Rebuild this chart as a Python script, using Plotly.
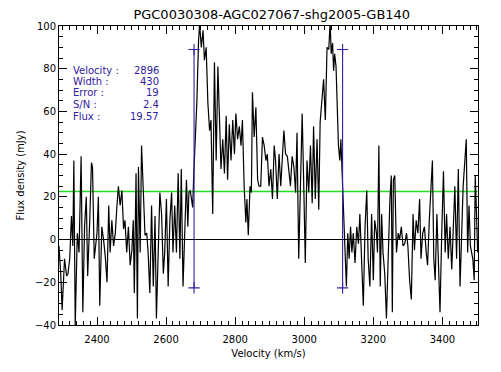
import plotly.graph_objects as go

# HI spectrum (velocity km/s, flux density mJy)
velocity = [
    2290, 2295, 2299, 2302, 2306, 2312, 2316, 2321, 2326, 2330, 2333, 2337, 2343, 2348, 2354, 2359,
    2364, 2369, 2373, 2379, 2384, 2387, 2392, 2400, 2404, 2408, 2414, 2419, 2424, 2429, 2434, 2438,
    2443, 2448, 2453, 2457, 2462, 2467, 2472, 2477, 2481, 2486, 2491, 2496, 2501, 2505, 2508, 2513,
    2517, 2520, 2525, 2529, 2534, 2539, 2544, 2548, 2553, 2558, 2563, 2568, 2572, 2577, 2582, 2587,
    2592, 2596, 2601, 2606, 2611, 2616, 2620, 2625, 2630, 2635, 2640, 2644, 2649, 2654, 2659, 2663,
    2666, 2670, 2673, 2677, 2680, 2684, 2689, 2694, 2697, 2702, 2707, 2711, 2716, 2721, 2726, 2730,
    2735, 2740, 2745, 2750, 2754, 2759, 2764, 2769, 2774, 2778, 2783, 2788, 2793, 2798, 2802, 2807,
    2812, 2817, 2821, 2826, 2831, 2834, 2838, 2843, 2847, 2850, 2855, 2860, 2865, 2869, 2874, 2879,
    2884, 2889, 2893, 2898, 2903, 2908, 2913, 2917, 2922, 2927, 2932, 2936, 2941, 2946, 2951, 2955,
    2960, 2965, 2970, 2975, 2979, 2984, 2989, 2994, 2999, 3003, 3008, 3013, 3018, 3023, 3027, 3032,
    3037, 3042, 3046, 3051, 3056, 3061, 3066, 3071, 3075, 3078, 3082, 3085, 3088, 3092, 3096, 3099,
    3103, 3106, 3109, 3111, 3114, 3118, 3122, 3126, 3130, 3134, 3138, 3142, 3147, 3152, 3157, 3161,
    3166, 3171, 3176, 3181, 3185, 3190, 3195, 3200, 3204, 3209, 3212, 3216, 3220, 3224, 3228, 3233,
    3238, 3243, 3248, 3252, 3255, 3258, 3262, 3267, 3272, 3276, 3281, 3286, 3291, 3296, 3300, 3305,
    3310, 3315, 3319, 3324, 3329, 3334, 3338, 3343, 3348, 3353, 3357, 3362, 3367, 3371, 3375, 3379,
    3384, 3388, 3393, 3398, 3403, 3408, 3412, 3417, 3422, 3427, 3432, 3436, 3441, 3446, 3451, 3456,
    3460, 3465, 3469, 3473, 3477, 3481, 3484, 3488, 3492, 3495, 3498, 3502,
]
flux = [
    -3, -16, -33, -25, -9, -17, -16, -9, 11, -3, 37, -40, 3, -6, 39, -34,
    6, 20, -17, 9, 36, 34, -9, 3, 20, -31, 6, 0, -8, -20, 16, -6,
    9, -3, 3, 14, 25, 16, 23, 5, 9, -6, 6, -12, -5, 9, -25, 31,
    -37, 34, -6, 44, 22, 2, 3, -6, -25, 16, -22, 11, -37, -2, 22, 12,
    -16, -6, 19, -22, 9, 22, -6, 16, -6, 31, -9, 33, -22, 3, 28, 6,
    22, 23, 20, 15, 30, 44, 64, 93, 101, 90, 98, 84, 90, 64, 51, 56,
    12, 83, 37, 81, 56, 33, 47, 31, 58, 28, 54, 37, 56, 40, 59, 47,
    53, 44, 56, 25, 8, 19, 2, 25, 22, 69, 48, 62, 28, 25, 25, 48,
    44, 37, 40, 25, 33, 19, 44, 37, 19, 40, 25, 39, 51, 40, 39, 33,
    25, 39, 34, 22, 50, -9, 25, 59, 22, -11, 37, 22, 44, 17, 53, 19,
    47, 14, 55, 67, 75, 56, 90, 89, 102, 87, 92, 79, 87, 81, 64, 44,
    37, 47, 34, 25, 16, -3, -22, 3, -9, 6, -6, 3, -11, 6, -2, 12,
    -9, -31, 6, 23, -9, -22, 12, -19, 9, 3, -6, 44, -22, 12, -6, -16,
    -37, -3, 19, 30, -34, 28, 30, -6, 3, 0, 6, -3, -2, 3, -3, -19,
    -28, 12, -5, 9, 3, 19, -9, 3, 6, -6, -12, 9, 25, 37, -9, -19,
    12, -9, -34, 3, 32, -6, 12, -9, 6, -14, 12, 25, -9, 33, -22, 3,
    25, 37, 47, -6, 16, -3, -6, -9, -19, 30, 16, -6,
]

# fit results printed on the plot
info_labels = ['Velocity :', 'Width :', 'Error :', 'S/N :', 'Flux :']
info_values = ['2896', '430', '19', '2.4', '19.57']

# width markers and rms level
edge_velocity = [2681, 3111]
edge_flux = [-22.6, 89]
rms_level = 22.5

blue = '#3020a0'
green = '#22dd22'
font = 'DejaVu Sans'

fig = go.Figure()

fig.add_trace(go.Scatter(x=[velocity[0], velocity[-1]], y=[rms_level, rms_level], mode='lines',
                         line=dict(color=green, width=1.3), hoverinfo='skip'))

fig.add_trace(go.Scatter(x=velocity, y=flux, mode='lines', line=dict(color='black', width=1.2)))

for v in edge_velocity:
    fig.add_trace(go.Scatter(x=[v, v], y=edge_flux, mode='lines+markers',
                             line=dict(color=blue, width=1.1),
                             marker=dict(symbol='cross-thin-open', size=8,
                                         line=dict(color=blue, width=1.1))))

# text block, placed in data coords like xyouts
row_y = [79.4, 74.0, 68.7, 63.1, 57.6]
for lab, val, yy in zip(info_labels, info_values, row_y):
    fig.add_annotation(x=2326, y=yy, text=lab, showarrow=False, xanchor='left',
                       font=dict(family=font, size=10, color=blue))
    fig.add_annotation(x=2584, y=yy, text=val, showarrow=False, xanchor='right',
                       font=dict(family=font, size=10, color=blue))

# page body adds an 8px offset, so the figure is 8px smaller than the window
fig.update_layout(
    width=493, height=364,
    margin=dict(l=47, r=23, t=18, b=47),
    paper_bgcolor='white', plot_bgcolor='white',
    showlegend=False,
    font=dict(family=font, size=10, color='black'),
    title=dict(text='PGC0030308-AGC027067-shg2005-GB140', x=0.535, xanchor='center',
               y=0.982, yanchor='middle', font=dict(family=font, size=13, color='black')),
)

fig.update_xaxes(
    range=[2290, 3503], showgrid=False, zeroline=False,
    showline=True, linecolor='black', linewidth=1, mirror='allticks',
    ticks='inside', ticklen=8, tickcolor='black', dtick=200, tick0=0,
    ticklabelstandoff=5,
    minor=dict(ticks='inside', ticklen=4, dtick=20, tickcolor='black', showgrid=False),
    title=dict(text='Velocity (km/s)', standoff=5, font=dict(family=font, size=10)),
)
fig.update_yaxes(
    range=[-40, 100], showgrid=False,
    zeroline=True, zerolinecolor='black', zerolinewidth=1.2,
    showline=True, linecolor='black', linewidth=1, mirror='allticks',
    ticks='inside', ticklen=8, tickcolor='black', dtick=20, tick0=0,
    minor=dict(ticks='inside', ticklen=4, dtick=5, tickcolor='black', showgrid=False),
    title=dict(text='Flux density (mJy)', standoff=8, font=dict(family=font, size=10)),
)

fig.write_html('out.html')
